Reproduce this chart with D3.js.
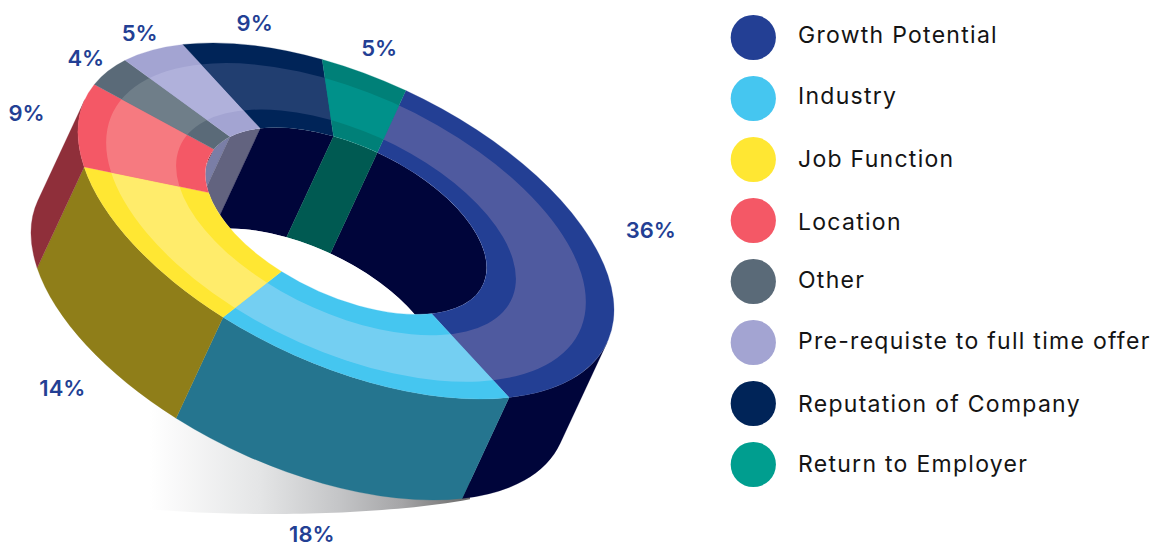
<!DOCTYPE html>
<html>
<head>
<meta charset="utf-8">
<style>
  html, body { margin: 0; padding: 0; background: #fff; }
  svg { display: block; }
</style>
<script src="https://cdn.jsdelivr.net/npm/d3@7"></script>
</head>
<body>
<div id="chart"></div>
<script>
const categories = ['Growth Potential', 'Industry', 'Job Function', 'Location', 'Other', 'Pre-requiste to full time offer', 'Reputation of Company', 'Return to Employer'];
const shares = [36, 18, 14, 9, 4, 5, 9, 5];

const legendColors = ['#233f94', '#45c6f0', '#ffe733', '#f45866', '#5a6a78', '#a3a4d2', '#002458', '#009e8f'];
const rimColors = ['#233f94', '#45c6f0', '#ffe733', '#f45866', '#5a6a78', '#a3a4d2', '#002458', '#008078'];
const bandColors = ['#4f5a9f', '#74cff2', '#ffec6b', '#f67a80', '#6f7e89', '#b0b1db', '#213e70', '#00918a'];
const wallColors = ['#00053a', '#25758f', '#8f7e19', '#8f2f3a', '#7a7ea6', '#62637f', '#00053a', '#005a52'];

// label position relative to the slice's rim point
const labelNudgeX = [43, -58, -71, -52, -22, -12, 6, 15];
const labelNudgeY = [-45, 152, 144, -9, -13, -17, -22, -25];
// legend text baselines are not evenly spaced in the original
const legendTextDy = [5.2, 5.5, 7.2, 9.5, 6.4, 6.2, 8.2, 7.2];

const width = 1155;
const height = 544;

// tilted view of the ring: a circle of radius 268 sheared and squashed
const center = { x: 346, y: 221 };
const radius = 268;
const tilt = { b: 89 / 268, d: 154.2 / 268 };
const depth = { x: -47, y: (101 + 47 * tilt.b) / tilt.d };

const rInner = radius * 0.525;
const rBandIn = radius * 0.634;
const rBandOut = radius * 0.895;
// the lighter band sits a little low on the ring
const bandShift = 1.4 / tilt.d;

const rad = d3.scaleLinear().domain([0, 360]).range([0, 2 * Math.PI]);
const startDeg = 282.9;
const visibleFrom = rad(13);
const visibleTo = rad(193);

const pie = d3.pie().sort(null).startAngle(rad(startDeg)).endAngle(rad(startDeg + 360));
const slices = pie(shares);

const svg = d3.select('#chart').append('svg').attr('width', width).attr('height', height);
const defs = svg.append('defs');

// ground shadow
const shadowGrad = defs.append('linearGradient')
    .attr('id', 'shadowGrad')
    .attr('gradientUnits', 'userSpaceOnUse')
    .attr('x1', 150).attr('x2', 465).attr('y1', 0).attr('y2', 0);
[[0, '#ffffff'], [0.35, '#e4e5e6'], [0.6, '#c4c5c7'], [0.8, '#a5a5a7'], [1, '#6e6e6e']].forEach(([o, c]) => {
    shadowGrad.append('stop').attr('offset', o).attr('stop-color', c);
});
const shadow = d3.path();
shadow.moveTo(150, 405);
shadow.lineTo(470, 405);
d3.range(0, 41).forEach(i => {
    const x = 470 - i * 8;
    const y = 473 + 41 * Math.sqrt(1 - ((x - 270) / 260) ** 2);
    shadow.lineTo(x, y);
});
shadow.closePath();
svg.append('path').attr('d', shadow.toString()).attr('fill', 'url(#shadowGrad)');

const ring = svg.append('g')
    .attr('transform', `matrix(1,${tilt.b},0,${tilt.d},${center.x},${center.y})`);

// d3.arc measures from 12 o'clock, d3.path and the pie angles here from 3 o'clock
const arcAt = (r0, r1) => d =>
    d3.arc().innerRadius(r0).outerRadius(r1)({
        startAngle: d.startAngle + Math.PI / 2,
        endAngle: d.endAngle + Math.PI / 2,
    });

// side wall of an arc, swept along the depth vector
function wallPath(r, a0, a1) {
    const p = d3.path();
    p.arc(0, 0, r, a0, a1);
    p.arc(depth.x, depth.y, r, a1, a0, true);
    p.closePath();
    return p.toString();
}

// part of a slice lying in the span [from, to], also one turn on
function clipSpan(d, from, to) {
    for (const turn of [0, 2 * Math.PI, -2 * Math.PI]) {
        const a0 = Math.max(d.startAngle, from + turn);
        const a1 = Math.min(d.endAngle, to + turn);
        if (a1 > a0) return [a0, a1];
    }
    return null;
}

// outer walls
ring.append('g').selectAll('path')
    .data(slices.map((d, i) => ({ i, span: clipSpan(d, visibleFrom, visibleTo) })).filter(d => d.span))
    .join('path')
    .attr('d', d => wallPath(radius, d.span[0], d.span[1]))
    .attr('fill', d => wallColors[d.i])
    .attr('stroke', d => wallColors[d.i])
    .attr('stroke-width', 0.3);

// inner walls, only seen through the hole
defs.append('clipPath').attr('id', 'holeClip').append('circle').attr('r', rInner);
const hole = ring.append('g').attr('clip-path', 'url(#holeClip)');
hole.append('g').selectAll('path')
    .data(slices.map((d, i) => ({ i, span: clipSpan(d, visibleTo, visibleFrom + 2 * Math.PI) })).filter(d => d.span))
    .join('path')
    .attr('d', d => wallPath(rInner, d.span[0], d.span[1]))
    .attr('fill', d => wallColors[d.i])
    .attr('stroke', d => wallColors[d.i])
    .attr('stroke-width', 0.3);
hole.append('circle')
    .attr('cx', depth.x)
    .attr('cy', depth.y)
    .attr('r', rInner)
    .attr('fill', '#fff');

// top face: full slices, then the lighter band clipped to a shifted annulus
ring.append('g').selectAll('path')
    .data(slices)
    .join('path')
    .attr('d', arcAt(rInner, radius))
    .attr('fill', (d, i) => rimColors[i])
    .attr('stroke', (d, i) => rimColors[i])
    .attr('stroke-width', 0.3);

const annulus = d3.path();
[rBandOut, rBandIn].forEach(r => {
    annulus.moveTo(r, bandShift);
    annulus.arc(0, bandShift, r, 0, 2 * Math.PI);
});
defs.append('clipPath').attr('id', 'bandClip').append('path')
    .attr('d', annulus.toString())
    .attr('clip-rule', 'evenodd');
ring.append('g').attr('clip-path', 'url(#bandClip)').selectAll('path')
    .data(slices)
    .join('path')
    .attr('d', arcAt(rInner, radius))
    .attr('fill', (d, i) => bandColors[i])
    .attr('stroke', (d, i) => bandColors[i])
    .attr('stroke-width', 0.3);

// percent labels
const rimPoint = a => {
    const x = radius * Math.cos(a);
    const y = radius * Math.sin(a);
    return [center.x + x, center.y + tilt.b * x + tilt.d * y];
};
svg.append('g').selectAll('text')
    .data(slices)
    .join('text')
    .attr('x', (d, i) => rimPoint((d.startAngle + d.endAngle) / 2)[0] + labelNudgeX[i])
    .attr('y', (d, i) => rimPoint((d.startAngle + d.endAngle) / 2)[1] + labelNudgeY[i])
    .attr('text-anchor', 'middle')
    .attr('dy', '0.36em')
    .attr('font-family', 'Inter, sans-serif')
    .attr('font-size', 22)
    .attr('font-weight', 600)
    .attr('fill', '#233f94')
    .text(d => `${d.value}%`);

// legend
const legendY = d3.scalePoint().domain(categories).range([37.5, 464.5]);
const legend = svg.append('g').selectAll('g')
    .data(categories)
    .join('g')
    .attr('transform', d => `translate(0,${legendY(d)})`);
legend.append('circle')
    .attr('cx', 753.3)
    .attr('r', 22.6)
    .attr('fill', (d, i) => legendColors[i]);
legend.append('text')
    .attr('x', 798)
    .attr('y', (d, i) => legendTextDy[i])
    .attr('font-family', 'Inter, sans-serif')
    .attr('font-size', 23)
    .attr('letter-spacing', 1.28)
    .attr('fill', '#141414')
    .text(d => d);
</script>
</body>
</html>
